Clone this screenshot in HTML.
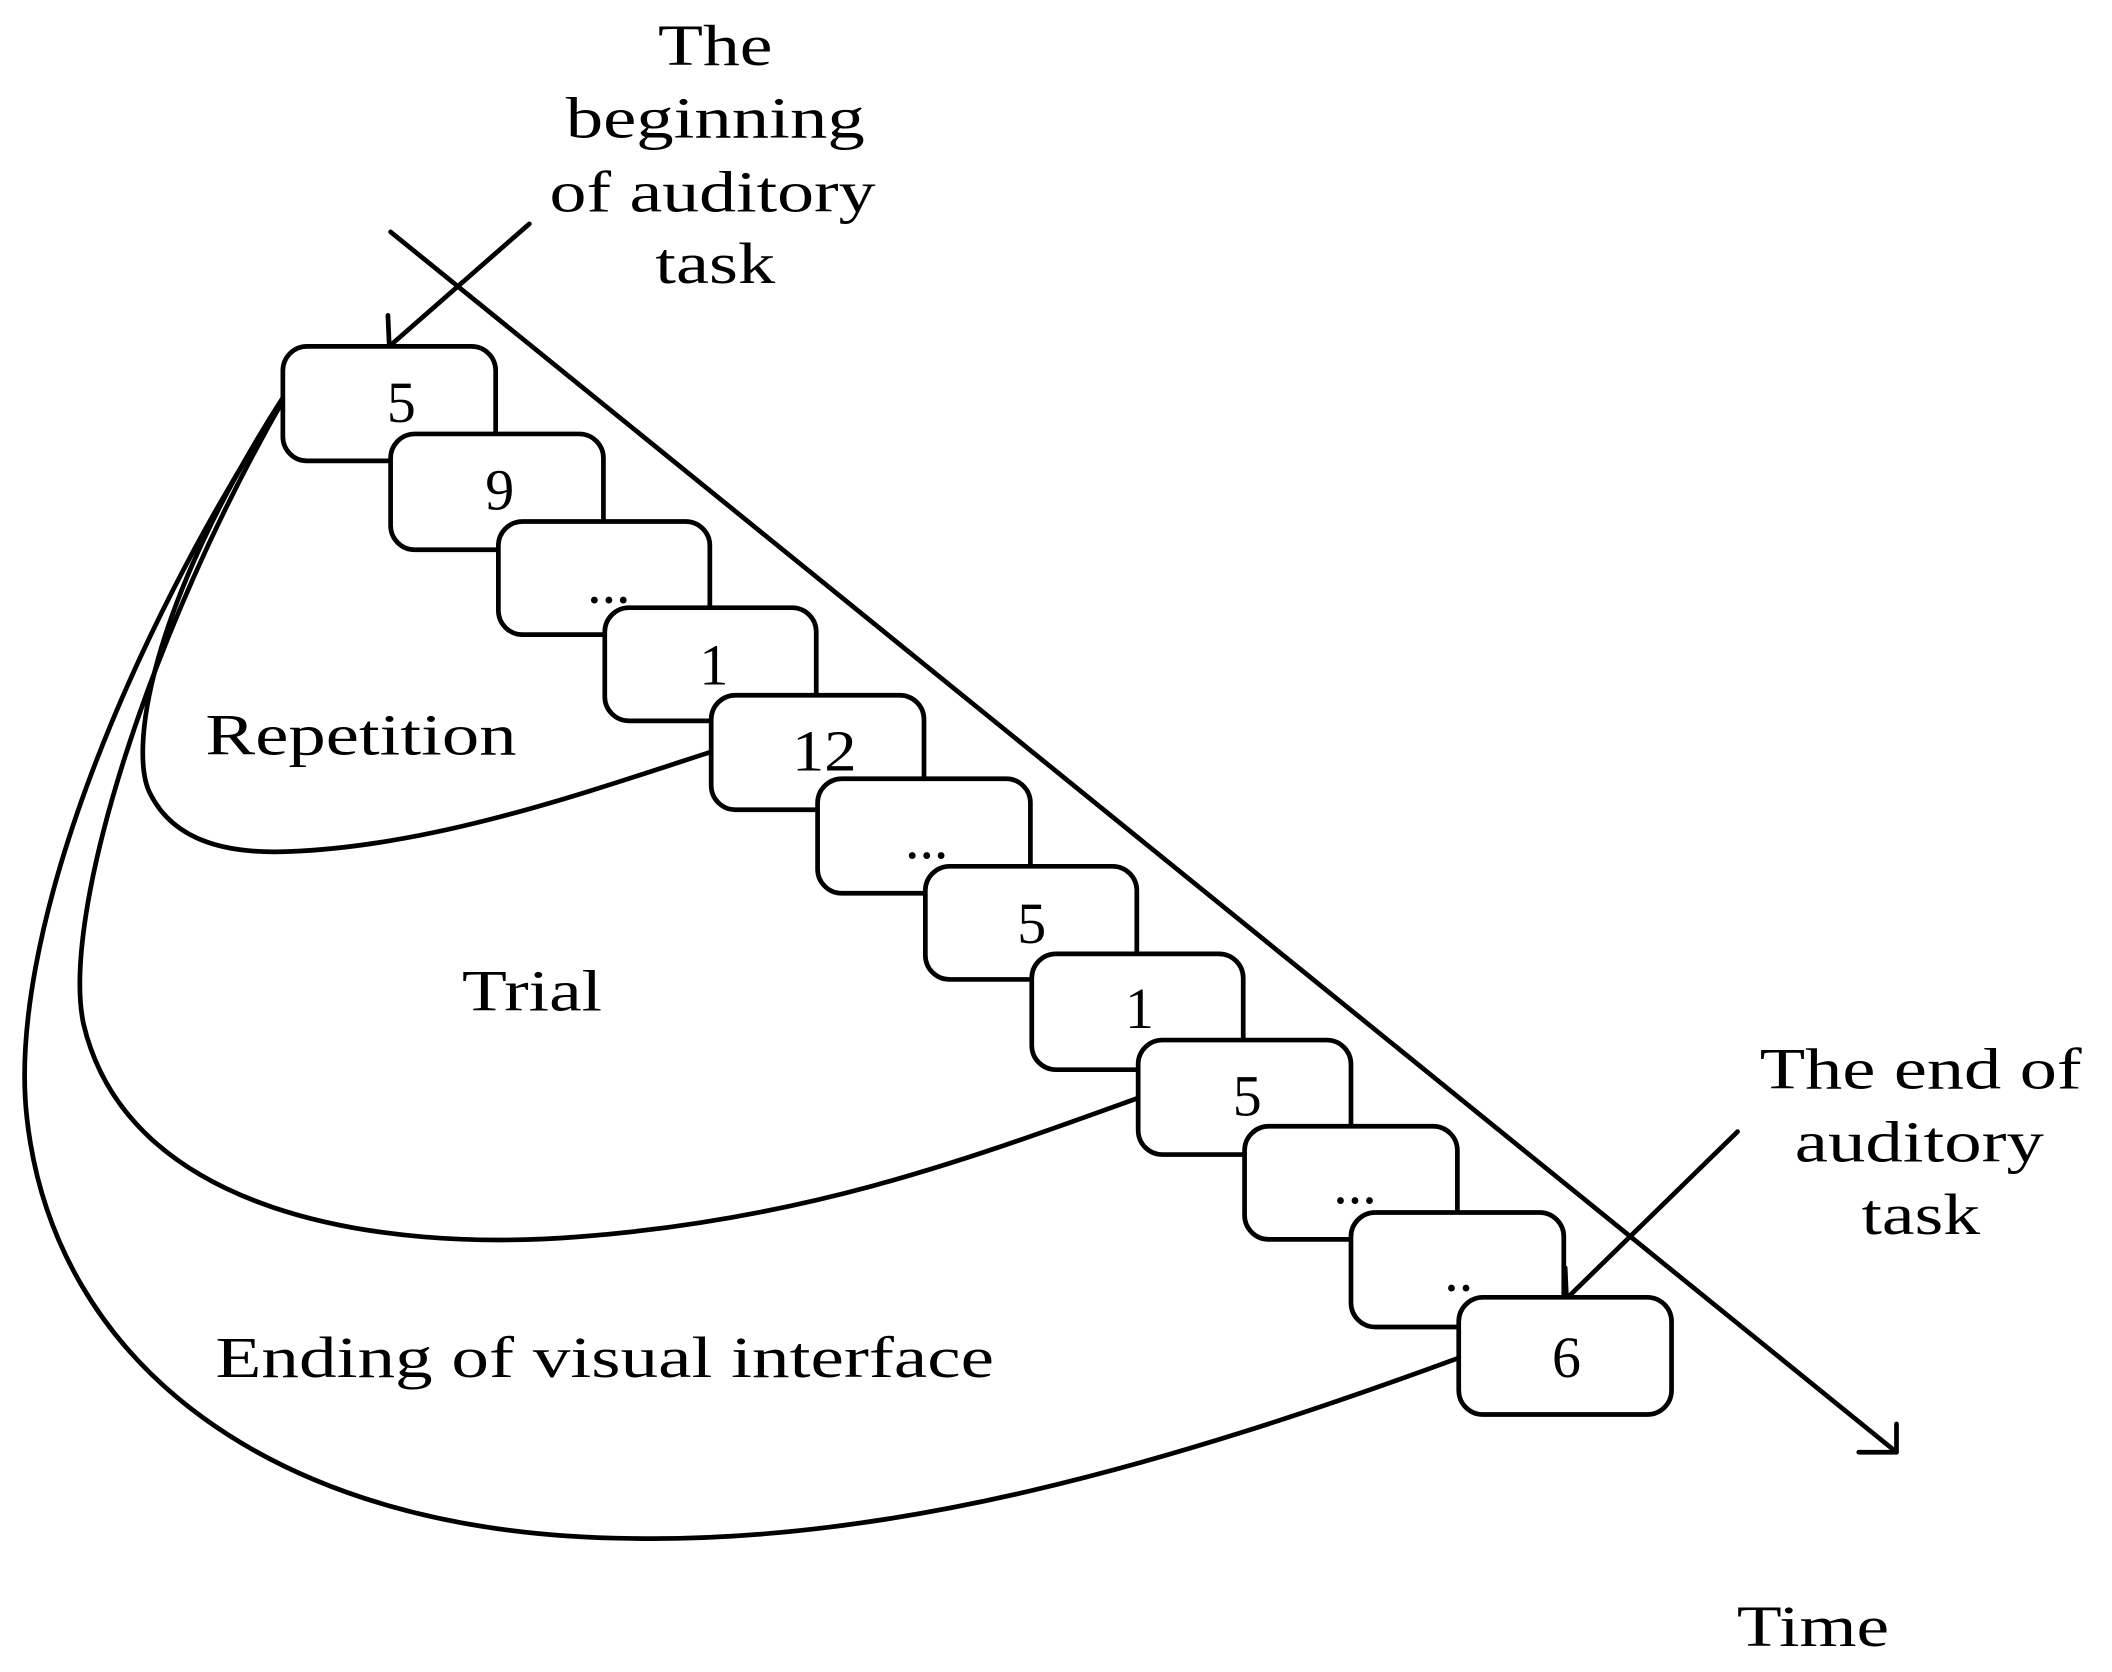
<!DOCTYPE html>
<html><head><style>html,body{margin:0;padding:0;background:#fff}svg{display:block}</style></head>
<body>
<svg width="2112" height="1672" viewBox="0 0 1568 1241" xmlns="http://www.w3.org/2000/svg">
<g fill="none" stroke="#000" stroke-width="3.5" stroke-linecap="round" stroke-linejoin="round">
<path d="M212,292 C110,450 95,560 112,590 C130,625 170,634 215,632 C320,628 430,590 528,558"/>
<path d="M212,294 C110,470 45,680 62,760 C95,900 280,930 430,918 C600,905 720,860 845,815"/>
<path d="M212,294 C90,480 5,700 20,830 C40,1010 200,1140 470,1142 C660,1145 860,1090 1083,1008"/>
<line x1="290" y1="172" x2="1408" y2="1078"/>
<polyline points="1380,1078 1408,1078 1408,1057"/>
<line x1="393" y1="166" x2="289" y2="257"/>
<polyline points="288,234 289,257 312,257"/>
<line x1="1290" y1="840" x2="1163" y2="964"/>
<polyline points="1162,941 1163,964 1188,964"/>
</g>
<g fill="#fff" stroke="#000" stroke-width="3.5">
<rect x="210" y="257" width="158" height="85" rx="18"/>
<rect x="290" y="322" width="158" height="86" rx="18"/>
<rect x="370" y="387" width="157" height="84" rx="18"/>
<rect x="449" y="451" width="157" height="84" rx="18"/>
<rect x="528" y="516" width="158" height="85" rx="18"/>
<rect x="607" y="578" width="158" height="85" rx="18"/>
<rect x="687" y="643" width="157" height="84" rx="18"/>
<rect x="766" y="708" width="157" height="86" rx="18"/>
<rect x="845" y="772" width="158" height="85" rx="18"/>
<rect x="924" y="836" width="158" height="84" rx="18"/>
<rect x="1003" y="900" width="158" height="85" rx="18"/>
<rect x="1083" y="963" width="158" height="87" rx="18"/>
</g>
<g font-family="Liberation Serif, serif" font-size="43" fill="#000" text-anchor="middle">
<text x="298" y="313">5</text>
<text x="371" y="378">9</text>
<text x="452" y="447">...</text>
<text x="530" y="508">1</text>
<text x="612" y="572" textLength="48" lengthAdjust="spacingAndGlyphs">12</text>
<text x="688" y="637">...</text>
<text x="766" y="700">5</text>
<text x="846" y="763">1</text>
<text x="926" y="828">5</text>
<text x="1006" y="893">...</text>
<text x="1083" y="958">..</text>
<text x="1163" y="1022">6</text>
<text x="531" y="48" textLength="85" lengthAdjust="spacingAndGlyphs">The</text>
<text x="531" y="102" textLength="222" lengthAdjust="spacingAndGlyphs">beginning</text>
<text x="529" y="157" textLength="242" lengthAdjust="spacingAndGlyphs">of auditory</text>
<text x="531" y="210" textLength="89" lengthAdjust="spacingAndGlyphs">task</text>
<text x="1426" y="808" textLength="239" lengthAdjust="spacingAndGlyphs">The end of</text>
<text x="1425" y="862" textLength="185" lengthAdjust="spacingAndGlyphs">auditory</text>
<text x="1426" y="916" textLength="88" lengthAdjust="spacingAndGlyphs">task</text>
<text x="268" y="560" textLength="231" lengthAdjust="spacingAndGlyphs">Repetition</text>
<text x="395" y="750" textLength="104" lengthAdjust="spacingAndGlyphs">Trial</text>
<text x="449" y="1022" textLength="578" lengthAdjust="spacingAndGlyphs">Ending of visual interface</text>
<text x="1346" y="1222" textLength="113" lengthAdjust="spacingAndGlyphs">Time</text>
</g>
</svg>
</body></html>
